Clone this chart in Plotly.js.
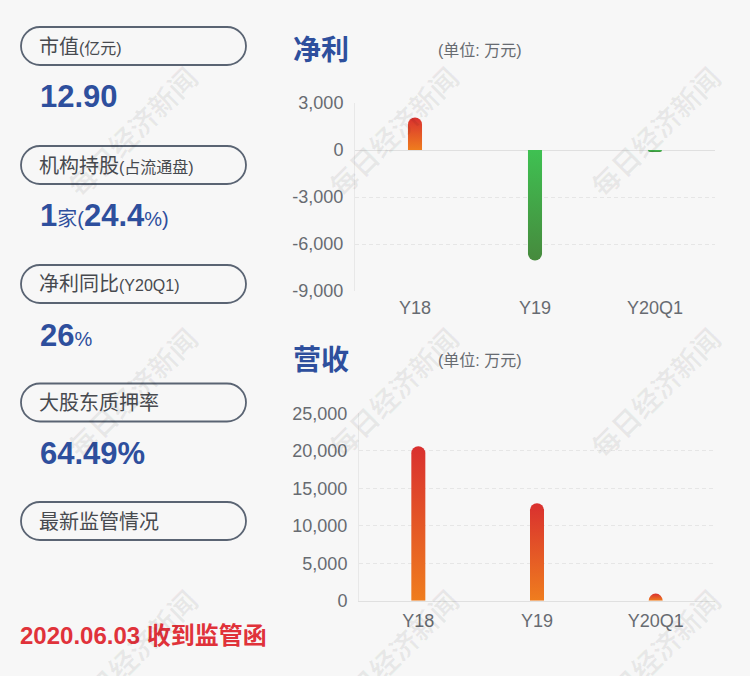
<!DOCTYPE html>
<html>
<head>
<meta charset="utf-8">
<script src="https://cdn.plot.ly/plotly-3.0.1.min.js"></script>
<style>
  html, body { margin: 0; padding: 0; background: #f7f7f7; }
  #chart { width: 750px; height: 676px; }
</style>
</head>
<body>
<div id="chart"></div>
<script>
// ---------------- data ----------------
const categories = ['Y18', 'Y19', 'Y20Q1'];
const netProfit = [2070, -7050, -130];        // 万元
const revenue = [20600, 13000, 950];          // 万元

const profitTickVals = [3000, 0, -3000, -6000, -9000];
const profitTickText = ['3,000', '0', '-3,000', '-6,000', '-9,000'];
const revenueTickVals = [25000, 20000, 15000, 10000, 5000, 0];
const revenueTickText = ['25,000', '20,000', '15,000', '10,000', '5,000', '0'];

const profitTitle = '净利';
const revenueTitle = '营收';
const unitText = '(单位: 万元)';

const panelLabels = [
  '市值<span style="font-size:16px">(亿元)</span>',
  '机构持股<span style="font-size:16px">(占流通盘)</span>',
  '净利同比<span style="font-size:16px">(Y20Q1)</span>',
  '大股东质押率',
  '最新监管情况'
];
const panelValues = [
  '<b>12.90</b>',
  '<b>1</b><span style="font-size:20px">家(</span><b>24.4</b><span style="font-size:20px">%)</span>',
  '<b>26</b><span style="font-size:20px">%</span>',
  '<b>64.49%</b>'
];
const noticeText = '<b>2020.06.03 收到监管函</b>';
const watermarkText = '每日经济新闻';

// ---------------- layout helpers ----------------
const W = 750, H = 676;
const px = x => x / W;
const py = y => 1 - y / H;
const FONT = '"Liberation Sans", "Noto Sans CJK SC", Arial, sans-serif';
const BLUE = '#2e4f9d';
const GRAY = '#676b71';

function pillPath(x0, y0, x1, y1) {
  const r = (y1 - y0) / 2, yc = (y0 + y1) / 2, k = 0.5523 * r;
  const P = (x, y) => px(x).toFixed(5) + ',' + py(y).toFixed(5);
  return 'M' + P(x0 + r, y0) + ' L' + P(x1 - r, y0) +
    ' C' + P(x1 - r + k, y0) + ' ' + P(x1, yc - k) + ' ' + P(x1, yc) +
    ' C' + P(x1, yc + k) + ' ' + P(x1 - r + k, y1) + ' ' + P(x1 - r, y1) +
    ' L' + P(x0 + r, y1) +
    ' C' + P(x0 + r - k, y1) + ' ' + P(x0, yc + k) + ' ' + P(x0, yc) +
    ' C' + P(x0, yc - k) + ' ' + P(x0 + r - k, y0) + ' ' + P(x0 + r, y0) + ' Z';
}

const shapes = [];
const annotations = [];
const pillTops = [27, 146, 265, 383.5, 502];
pillTops.forEach((t, i) => {
  shapes.push({
    type: 'path', xref: 'paper', yref: 'paper',
    path: pillPath(21, t, 246, t + 38),
    line: { color: '#5a6473', width: 1.8 }, fillcolor: 'rgba(0,0,0,0)'
  });
  annotations.push({
    xref: 'paper', yref: 'paper', x: px(37), y: py(t + 19.5),
    xanchor: 'left', yanchor: 'middle', showarrow: false,
    text: panelLabels[i], font: { family: FONT, size: 20, color: '#474a4f' }
  });
});
const valueY = [96, 215, 335, 453];
panelValues.forEach((v, i) => {
  annotations.push({
    xref: 'paper', yref: 'paper', x: px(38), y: py(valueY[i]),
    xanchor: 'left', yanchor: 'middle', showarrow: false,
    text: v, font: { family: FONT, size: 31, color: BLUE }
  });
});
annotations.push({
  xref: 'paper', yref: 'paper', x: px(18), y: py(635),
  xanchor: 'left', yanchor: 'middle', showarrow: false,
  text: noticeText, font: { family: FONT, size: 24, color: '#e0323a' }
});

// chart titles
[[profitTitle, 50], [revenueTitle, 360]].forEach(([t, y]) => {
  annotations.push({
    xref: 'paper', yref: 'paper', x: px(291), y: py(y),
    xanchor: 'left', yanchor: 'middle', showarrow: false,
    text: '<b>' + t + '</b>', font: { family: FONT, size: 28, color: BLUE }
  });
  annotations.push({
    xref: 'paper', yref: 'paper', x: px(436), y: py(y),
    xanchor: 'left', yanchor: 'middle', showarrow: false,
    text: unitText, font: { family: FONT, size: 16, color: GRAY }
  });
});

// watermarks
[132, 393, 655].forEach(cx => {
  [131, 392, 654].forEach(cy => {
    annotations.push({
      xref: 'paper', yref: 'paper', x: px(cx), y: py(cy),
      xanchor: 'center', yanchor: 'middle', showarrow: false,
      textangle: -45, text: '<b>' + watermarkText + '</b>',
      font: { family: '"Noto Sans CJK SC", sans-serif', size: 28, color: 'rgba(0,0,0,0.06)' }
    });
  });
});

// ---------------- traces ----------------
const traces = [
  {
    type: 'bar', x: categories, y: netProfit, xaxis: 'x', yaxis: 'y',
    width: 0.117, marker: { color: netProfit.map(v => v >= 0 ? '#e2502a' : '#43a94a'), cornerradius: '50%', line: { width: 0 } },
    hoverinfo: 'none'
  },
  {
    type: 'bar', x: categories, y: revenue, xaxis: 'x2', yaxis: 'y2',
    width: 0.118, marker: { color: '#e2502a', cornerradius: '50%', line: { width: 0 } },
    hoverinfo: 'none'
  }
];

const tickFont = { family: FONT, size: 18, color: GRAY };
const layout = {
  width: W, height: H,
  margin: { l: 0, r: 0, t: 0, b: 0, pad: 0 },
  paper_bgcolor: '#f7f7f7', plot_bgcolor: 'rgba(0,0,0,0)',
  showlegend: false,
  font: { family: FONT },
  xaxis: {
    domain: [px(355), px(715)], anchor: 'y', type: 'category',
    showgrid: false, zeroline: false, showline: false, ticks: '',
    tickfont: tickFont, ticklabelstandoff: 4, fixedrange: true
  },
  yaxis: {
    domain: [py(291), py(103)], anchor: 'x', range: [-9000, 3000],
    tickvals: profitTickVals, ticktext: profitTickText,
    showgrid: true, gridcolor: '#e6e6e6', griddash: '4px,3px', gridwidth: 1,
    zeroline: true, zerolinecolor: '#e0e0e0', zerolinewidth: 1,
    showline: true, linecolor: '#e8e8e8', linewidth: 1,
    ticks: '', tickfont: tickFont, ticklabelstandoff: 7, fixedrange: true
  },
  xaxis2: {
    domain: [px(359), px(715)], anchor: 'y2', type: 'category',
    showgrid: false, zeroline: false, showline: true, linecolor: '#e0e0e0', linewidth: 1,
    ticks: '', tickfont: tickFont, ticklabelstandoff: 4, fixedrange: true
  },
  yaxis2: {
    domain: [py(600.7), py(413.3)], anchor: 'x2', range: [0, 25000],
    tickvals: revenueTickVals, ticktext: revenueTickText,
    showgrid: true, gridcolor: '#e6e6e6', griddash: '4px,3px', gridwidth: 1,
    zeroline: false, showline: true, linecolor: '#e8e8e8', linewidth: 1,
    ticks: '', tickfont: tickFont, ticklabelstandoff: 7, fixedrange: true
  },
  shapes: shapes,
  annotations: annotations
};

Plotly.newPlot('chart', traces, layout, { displayModeBar: false, staticPlot: true }).then(gd => {
  // vertical gradients on the bars
  const svg = gd.querySelector('svg.main-svg');
  let defs = svg.querySelector('defs');
  if (!defs) { defs = document.createElementNS('http://www.w3.org/2000/svg', 'defs'); svg.insertBefore(defs, svg.firstChild); }
  function grad(id, top, bottom) {
    const g = document.createElementNS('http://www.w3.org/2000/svg', 'linearGradient');
    g.setAttribute('id', id);
    g.setAttribute('x1', '0'); g.setAttribute('y1', '0');
    g.setAttribute('x2', '0'); g.setAttribute('y2', '1');
    [[0, top], [1, bottom]].forEach(([o, c]) => {
      const s = document.createElementNS('http://www.w3.org/2000/svg', 'stop');
      s.setAttribute('offset', o); s.setAttribute('stop-color', c);
      g.appendChild(s);
    });
    defs.appendChild(g);
  }
  grad('gradRed', '#d9302f', '#ef7d1e');
  grad('gradGreen', '#3fc152', '#468a3d');
  const traceGroups = gd.querySelectorAll('.barlayer .trace');
  traceGroups.forEach((tg, ti) => {
    const vals = ti === 0 ? netProfit : revenue;
    tg.querySelectorAll('.point path').forEach((p, pi) => {
      p.style.fill = vals[pi] >= 0 ? 'url(#gradRed)' : 'url(#gradGreen)';
    });
  });
});
</script>
</body>
</html>
